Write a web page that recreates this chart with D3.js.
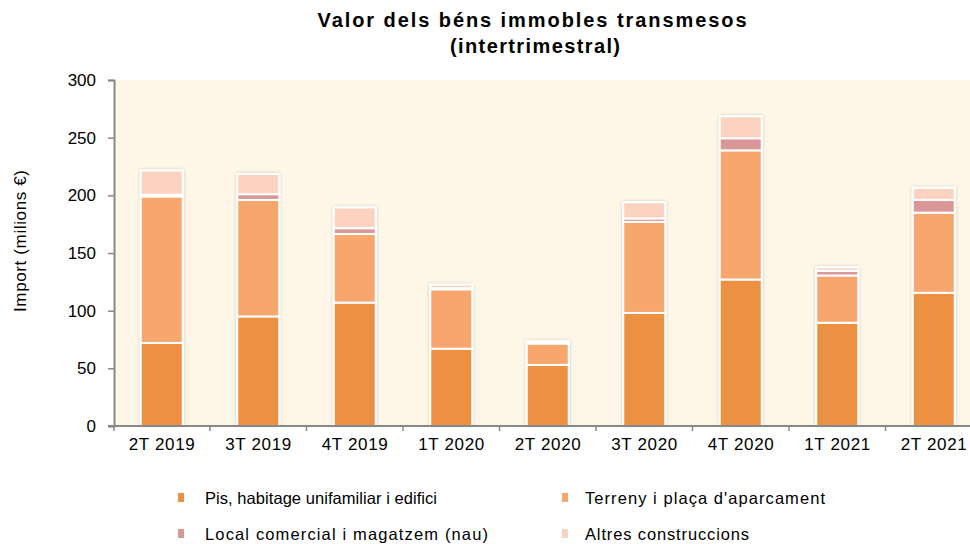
<!DOCTYPE html>
<html>
<head>
<meta charset="utf-8">
<script src="https://cdn.jsdelivr.net/npm/d3@7"></script>
<style>
  body { margin: 0; background: #fff; }
  svg { display: block; font-family: "Liberation Sans", Arial, sans-serif; }
</style>
</head>
<body>
<svg id="chart" width="970" height="544"></svg>
<script>
// Data (milions €)
const categories = ['2T 2019', '3T 2019', '4T 2019', '1T 2020', '2T 2020', '3T 2020', '4T 2020', '1T 2021', '2T 2021'];
const pis      = [72, 95, 107, 67, 53, 98, 127, 89.5, 115.5];
const terreny  = [127, 101, 59.5, 51.5, 18.5, 79, 112, 41, 69.5];
const local    = [1.5, 5, 5, 1, 0.5, 3, 10.5, 4, 11];
const altres   = [21, 17.5, 18, 3, 1.5, 14, 19, 3, 10.5];
const yTicks   = [0, 50, 100, 150, 200, 250, 300];

const seriesNames = ['Pis, habitage unifamiliar i edifici', 'Terreny i plaça d\'aparcament',
                     'Local comercial i magatzem (nau)', 'Altres construccions'];
const seriesKeys = ['pis', 'terreny', 'local', 'altres'];
const colors = ['#ec9142', '#f7a66d', '#da9797', '#fbd3c0'];

const rows = categories.map((c, i) => ({
  cat: c, pis: pis[i], terreny: terreny[i], local: local[i], altres: altres[i]
}));

const svg = d3.select('#chart');
const plot = { left: 114, top: 80, right: 970, bottom: 426 };

// drop shadow for the bars
const defs = svg.append('defs');
const f = defs.append('filter').attr('id', 'shadow').attr('x', '-20%').attr('y', '-10%').attr('width', '140%').attr('height', '120%');
f.append('feDropShadow').attr('dx', 0).attr('dy', 0).attr('stdDeviation', 1.6)
  .attr('flood-color', '#000').attr('flood-opacity', 0.22);

const x = d3.scaleBand().domain(categories)
  .range([plot.left - 0.5, plot.left - 0.5 + 9 * 96.5])
  .paddingInner(0.565).paddingOuter(0.2825);
const y = d3.scaleLinear().domain([0, 300]).range([plot.bottom, plot.top]);

// plot background
svg.append('rect')
  .attr('x', plot.left).attr('y', y(300))
  .attr('width', plot.right - plot.left).attr('height', y(0) - y(300))
  .attr('fill', '#fef6e7');

// title
svg.append('text').attr('x', 532).attr('y', 27).attr('text-anchor', 'middle')
  .attr('font-size', 20).attr('font-weight', 'bold')
  .attr('textLength', 429).attr('lengthAdjust', 'spacing')
  .text('Valor dels béns immobles transmesos');
svg.append('text').attr('x', 535).attr('y', 53).attr('text-anchor', 'middle')
  .attr('font-size', 20).attr('font-weight', 'bold')
  .attr('textLength', 170).attr('lengthAdjust', 'spacing')
  .text('(intertrimestral)');

// stacked bars
const stack = d3.stack().keys(seriesKeys)(rows);
const layers = svg.append('g');
stack.forEach((layer, k) => {
  layers.append('g').selectAll('rect')
    .data(layer)
    .join('rect')
    .attr('x', d => x(d.data.cat))
    .attr('y', d => y(d[1]))
    .attr('width', x.bandwidth())
    .attr('height', d => Math.max(0, y(d[0]) - y(d[1])))
    .attr('fill', colors[k])
    .attr('stroke', '#fff')
    .attr('stroke-width', 2);
});
// shadow outline around each full bar (drawn beneath)
layers.insert('g', ':first-child').selectAll('rect')
  .data(rows)
  .join('rect')
  .attr('x', d => x(d.cat) - 1)
  .attr('y', d => y(d.pis + d.terreny + d.local + d.altres) - 1)
  .attr('width', x.bandwidth() + 2)
  .attr('height', d => y(0) - y(d.pis + d.terreny + d.local + d.altres) + 1)
  .attr('fill', '#fff')
  .attr('filter', 'url(#shadow)');

// y axis
const yAxis = svg.append('g').attr('transform', `translate(${plot.left},0)`)
  .call(d3.axisLeft(y).tickValues(yTicks).tickSize(6).tickPadding(12));
yAxis.select('.domain').attr('stroke', '#888').attr('stroke-width', 2);
yAxis.selectAll('.tick line').attr('stroke', '#888').attr('stroke-width', 1.5);
yAxis.selectAll('.tick text').attr('font-size', 17).attr('fill', '#000')
  .attr('font-family', '"Liberation Sans", Arial, sans-serif');

// x axis with ticks between categories
svg.append('line').attr('x1', plot.left - 6).attr('x2', plot.right)
  .attr('y1', y(0)).attr('y2', y(0)).attr('stroke', '#888').attr('stroke-width', 2);
const xAxis = svg.append('g').attr('transform', `translate(0,${y(0)})`);
const sepX = d => x(d) + x.bandwidth() + x.step() * x.paddingInner() / 2;
xAxis.selectAll('line.sep')
  .data(categories)
  .join('line')
  .attr('class', 'sep')
  .attr('x1', sepX).attr('x2', sepX)
  .attr('y1', 0).attr('y2', 5)
  .attr('stroke', '#888').attr('stroke-width', 1.5);
xAxis.append('line').attr('x1', plot.left).attr('x2', plot.left).attr('y1', 0).attr('y2', 5)
  .attr('stroke', '#888').attr('stroke-width', 1.5);
xAxis.selectAll('text')
  .data(categories)
  .join('text')
  .attr('x', d => x(d) + x.bandwidth() / 2)
  .attr('y', 24)
  .attr('text-anchor', 'middle')
  .attr('font-size', 17)
  .attr('textLength', 66).attr('lengthAdjust', 'spacing')
  .text(d => d);

// y axis title
svg.append('text')
  .attr('transform', `translate(26,241) rotate(-90)`)
  .attr('text-anchor', 'middle')
  .attr('font-size', 17)
  .attr('textLength', 142).attr('lengthAdjust', 'spacing')
  .text('Import (milions €)');

// legend
const legendPos = [[178, 498], [562, 498], [178, 534], [562, 534]];
const legendWidths = [232, 240, 283, 164];
const legend = svg.append('g');
seriesNames.forEach((name, k) => {
  const [lx, ly] = legendPos[k];
  legend.append('rect').attr('x', lx).attr('y', ly - 5).attr('width', 6).attr('height', 9)
    .attr('fill', colors[k]);
  legend.append('text').attr('x', lx + (k % 2 ? 23 : 27)).attr('y', ly + 6)
    .attr('font-size', 16.5)
    .attr('textLength', legendWidths[k]).attr('lengthAdjust', 'spacing')
    .text(name);
});
</script>
</body>
</html>
